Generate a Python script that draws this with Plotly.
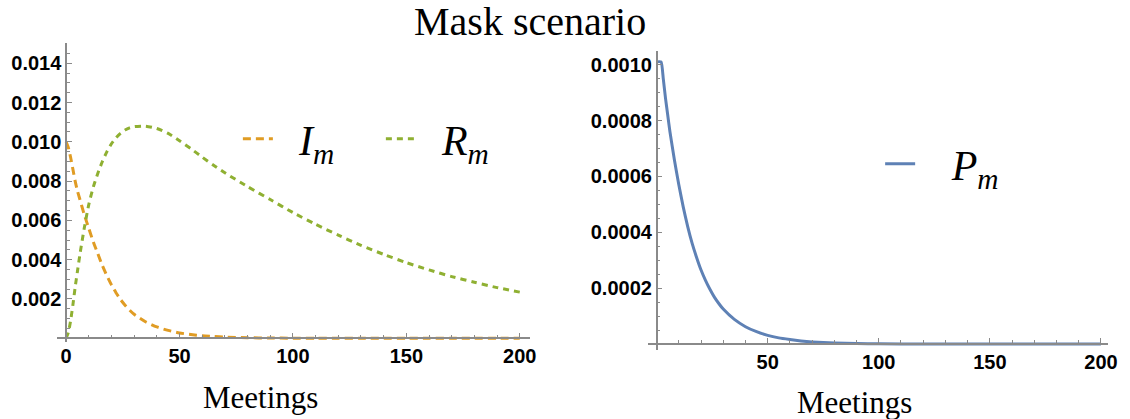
import plotly.graph_objects as go

# Left panel: infected / recovered fractions over meetings (mask scenario)
meetings_left = [0, 1, 2, 3, 4, 5, 6, 8, 10, 12, 14, 16, 18, 20, 22, 24, 26, 28, 30,
                 35, 40, 45, 50, 55, 60, 65, 70, 80, 90, 100, 110, 120, 130, 140, 150,
                 160, 170, 180, 190, 200]
infected = [0.0100, 0.0097, 0.0092, 0.0086, 0.0080, 0.0075, 0.0071, 0.0063, 0.0056,
            0.0049, 0.0043, 0.0037, 0.00318, 0.00272, 0.00232, 0.00197, 0.00168,
            0.00143, 0.00122, 0.00084, 0.00058, 0.00040, 0.00027, 0.00019, 0.00013,
            0.00009, 0.00006, 0.000027, 0.000012, 0.000005, 0.000002, 0.000001,
            0.0000005, 0.0000002, 0.0000001, 0.0, 0.0, 0.0, 0.0, 0.0]
recovered = [0.0, 0.0003, 0.0009, 0.0017, 0.0026, 0.0034, 0.0042, 0.0056, 0.0068,
             0.0077, 0.0084, 0.0090, 0.0095, 0.0099, 0.01020, 0.01043, 0.01060,
             0.01071, 0.01077, 0.01080, 0.01068, 0.01043, 0.01005, 0.00965, 0.00922,
             0.00881, 0.00842, 0.00772, 0.00706, 0.00640, 0.00580, 0.00525, 0.00473,
             0.00427, 0.00385, 0.00348, 0.00314, 0.00285, 0.00258, 0.00235]

# Right panel: P_m over meetings
meetings_right = [0, 2, 3, 4, 5, 6, 8, 10, 12, 14, 16, 18, 20, 22, 24, 26, 28, 30, 35,
                  40, 45, 50, 55, 60, 65, 70, 80, 90, 100, 120, 150, 200]
p_values = [0.00101, 0.00101, 0.00095, 0.00088, 0.00082, 0.00076, 0.00066, 0.00057,
            0.00049, 0.00042, 0.00036, 0.00031, 0.000265, 0.000228, 0.000196,
            0.000168, 0.000145, 0.000125, 0.000088, 0.000062, 0.000044, 0.000031,
            0.000022, 0.000016, 0.000011, 0.0000075, 0.0000036, 0.0000017,
            0.0000008, 0.0000002, 0.00000003, 0.0]

left_yticks = [0.002, 0.004, 0.006, 0.008, 0.010, 0.012, 0.014]
left_xticks = [0, 50, 100, 150, 200]
right_yticks = [0.0002, 0.0004, 0.0006, 0.0008, 0.0010]
right_xticks = [50, 100, 150, 200]

ORANGE = "#E09C24"
GREEN = "#8FB032"
BLUE = "#5E81B5"
AXIS = "#8a8a8a"
W, H = 1130, 419

tick_font = dict(family="Liberation Sans", size=20, color="black", weight="bold")
serif = "Liberation Serif"


def py(px):
    """Convert a pixel row (from top) to paper y."""
    return (H - px) / H


def px_x(px):
    return px / W


fig = go.Figure()

fig.add_trace(go.Scatter(
    x=meetings_left, y=infected, mode="lines", name="&nbsp;&nbsp;I<sub>m</sub>",
    line=dict(color=ORANGE, width=3, dash="8px,5px", shape="spline", smoothing=0.6),
    xaxis="x", yaxis="y", legend="legend"))
fig.add_trace(go.Scatter(
    x=meetings_left, y=recovered, mode="lines", name="&nbsp;&nbsp;R<sub>m</sub>",
    line=dict(color=GREEN, width=3, dash="6px,5px", shape="spline", smoothing=0.6),
    xaxis="x", yaxis="y", legend="legend"))
fig.add_trace(go.Scatter(
    x=meetings_right, y=p_values, mode="lines", name="&nbsp;&nbsp;&nbsp;P<sub>m</sub>",
    line=dict(color=BLUE, width=3, shape="spline", smoothing=0.5),
    xaxis="x2", yaxis="y2", legend="legend2"))

axis_common = dict(
    showgrid=False, zeroline=False, showline=True, linecolor=AXIS, linewidth=1.5,
    ticks="inside", ticklen=5, tickwidth=1.2, tickcolor=AXIS, tickfont=tick_font,
)

fig.update_layout(
    xaxis=dict(axis_common, domain=[px_x(57.3), px_x(534.7)], range=[-4.1, 204.5],
               anchor="free", position=py(338.3), tickvals=left_xticks,
               minor=dict(dtick=10, tick0=0, ticks="inside", ticklen=3,
                          tickcolor=AXIS, tickwidth=1)),
    yaxis=dict(axis_common, domain=[py(342.2), py(43)], range=[-0.0002, 0.01503],
               anchor="free", position=px_x(66.7), tickvals=left_yticks,
               tickformat=".3f",
               minor=dict(dtick=0.0005, tick0=0, ticks="inside", ticklen=3,
                          tickcolor=AXIS, tickwidth=1)),
    xaxis2=dict(axis_common, domain=[px_x(653.5), px_x(1117.5)], range=[-4, 203],
                anchor="free", position=py(344), tickvals=right_xticks,
                minor=dict(dtick=10, tick0=0, ticks="inside", ticklen=3,
                           tickcolor=AXIS, tickwidth=1)),
    yaxis2=dict(axis_common, domain=[py(349.6), py(50.7)], range=[-0.00002, 0.00105],
                anchor="free", position=px_x(662.5), tickvals=right_yticks,
                tickformat=".4f",
                minor=dict(dtick=0.00005, tick0=0, ticks="inside", ticklen=3,
                           tickcolor=AXIS, tickwidth=1)),
)

legend_font = dict(family=serif, size=42, color="black", style="italic")
fig.update_layout(
    legend=dict(x=px_x(240), y=py(139), xanchor="left", yanchor="middle",
                orientation="h", entrywidth=98, entrywidthmode="pixels",
                font=legend_font, bgcolor="rgba(0,0,0,0)", borderwidth=0,
                tracegroupgap=0),
    legend2=dict(x=px_x(888), y=py(164), xanchor="left", yanchor="middle",
                 orientation="h", font=legend_font, bgcolor="rgba(0,0,0,0)",
                 borderwidth=0),
)

annotations = [
    dict(text="Mask scenario", x=px_x(535), y=py(22), xref="paper", yref="paper",
         xanchor="center", yanchor="middle", showarrow=False,
         font=dict(family=serif, size=40, color="black")),
    dict(text="Meetings", x=px_x(263), y=py(397), xref="paper", yref="paper",
         xanchor="center", yanchor="middle", showarrow=False,
         font=dict(family=serif, size=31, color="black")),
    dict(text="Meetings", x=px_x(862), y=py(402), xref="paper", yref="paper",
         xanchor="center", yanchor="middle", showarrow=False,
         font=dict(family=serif, size=31, color="black")),
]

fig.update_layout(
    width=W, height=H, autosize=False,
    margin=dict(l=0, r=0, t=0, b=0, pad=0),
    paper_bgcolor="white", plot_bgcolor="white",
    annotations=annotations, showlegend=True,
)

fig.write_html("out.html")
